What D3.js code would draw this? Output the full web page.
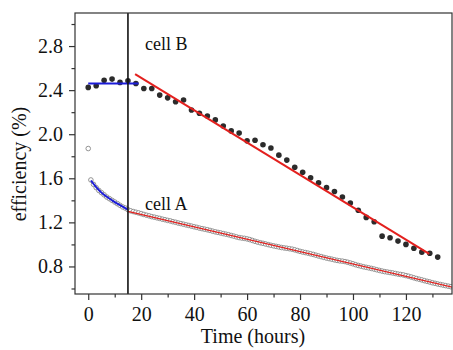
<!DOCTYPE html>
<meta charset="utf-8">
<script src="https://d3js.org/d3.v7.min.js"></script>
<style>
  body { margin: 0; background: #fff; }
  svg text { font-family: "Times New Roman", "Liberation Serif", "DejaVu Serif", serif !important; fill: #111; }
</style>
<svg id="chart" width="453" height="350"></svg>
<script>

  // cell B (filled dots), one every 3 hours
  var timesB = [0,3,6,9,12,15,18,21,24,27,30,33,36,39,42,45,48,51,54,57,60,63,66,69,72,75,78,81,84,87,90,93,96,99,102,105,108,111,114,117,120,123,126,129,132];
  var valuesB = [2.425,2.44,2.49,2.50,2.47,2.485,2.46,2.415,2.415,2.355,2.33,2.295,2.31,2.22,2.19,2.165,2.13,2.075,2.03,2.01,1.94,1.945,1.905,1.875,1.81,1.765,1.70,1.655,1.605,1.56,1.515,1.48,1.43,1.375,1.31,1.245,1.205,1.075,1.06,1.03,1.00,0.965,0.93,0.92,0.885];

  // cell A (open circles), one every hour
  var timesA = d3.range(0, 138);
  var valuesA = [1.87,1.585,1.545,1.515,1.49,1.47,1.45,1.43,1.415,1.40,1.385,1.37,1.355,1.34,1.33,1.315,
    1.305,1.298,1.292,1.286,1.279,1.272,1.265,1.259,1.252,1.247,1.241,1.236,1.229,1.224,1.218,1.213,1.206,1.201,1.194,1.189,
    1.183,1.177,1.172,1.166,1.160,1.155,1.148,1.143,1.138,1.133,1.127,1.120,1.114,1.109,1.104,1.098,1.093,1.088,1.081,1.075,
    1.068,1.062,1.058,1.055,1.050,1.044,1.036,1.028,1.021,1.015,1.010,1.004,0.998,0.992,0.987,0.982,0.977,0.972,0.968,0.965,
    0.961,0.957,0.951,0.944,0.937,0.931,0.926,0.921,0.915,0.909,0.902,0.895,0.889,0.882,0.876,0.871,0.866,0.860,0.855,0.851,
    0.848,0.844,0.838,0.831,0.824,0.816,0.809,0.803,0.797,0.792,0.787,0.782,0.776,0.770,0.764,0.758,0.753,0.749,0.745,0.741,
    0.736,0.731,0.727,0.723,0.717,0.711,0.704,0.697,0.690,0.684,0.678,0.671,0.665,0.659,0.652,0.647,0.641,0.636,0.631,0.626,
    0.621,0.616];

  // fitted lines
  var fitBlueA_t = [1,3,5,7,9,11,13,15];
  var fitBlueA_v = [1.58,1.52,1.47,1.432,1.40,1.37,1.342,1.315];
  var fitRedA_t = [15, 138];
  var fitRedA_v = [1.30, 0.610];
  var fitBlueB_t = [0, 19];
  var fitBlueB_v = [2.46, 2.46];
  var fitRedB_t = [17.7, 128.8];
  var fitRedB_v = [2.545, 0.915];

  // marker time and tick labels
  var markerTime = 15;
  var xTicks = [0,20,40,60,80,100,120];
  var xMinor = [10,30,50,70,90,110,130];
  var yTicks = [0.8,1.2,1.6,2.0,2.4,2.8];
  var yMinor = [0.6,1.0,1.4,1.8,2.2,2.6,3.0];

  var svg = d3.select("#chart");
  var pLeft = 75, pRight = 452, pTop = 13, pBottom = 294;

  var x = d3.scaleLinear().domain([-5, 137.4]).range([pLeft, pRight]);
  var y = d3.scaleLinear().domain([0.55, 3.1]).range([pBottom, pTop]);

  svg.append("clipPath").attr("id", "clip")
    .append("rect").attr("x", pLeft).attr("y", pTop)
    .attr("width", pRight - pLeft).attr("height", pBottom - pTop);

  var plot = svg.append("g").attr("clip-path", "url(#clip)");

  var line = d3.line().x(function(d) { return x(d[0]); }).y(function(d) { return y(d[1]); });
  var curve = d3.line().curve(d3.curveMonotoneX)
    .x(function(d) { return x(d[0]); }).y(function(d) { return y(d[1]); });

  // cell A points
  plot.append("g").selectAll("circle")
    .data(d3.zip(timesA, valuesA))
    .enter().append("circle")
    .attr("cx", function(d) { return x(d[0]); })
    .attr("cy", function(d) { return y(d[1]); })
    .attr("r", 2.3)
    .attr("fill", "#fff")
    .attr("stroke", "#888")
    .attr("stroke-width", 0.9);

  // fits
  plot.append("path").attr("d", curve(d3.zip(fitBlueA_t, fitBlueA_v)))
    .attr("fill", "none").attr("stroke", "#1c1cd8").attr("stroke-width", 2);
  plot.append("path").attr("d", line(d3.zip(fitRedA_t, fitRedA_v)))
    .attr("fill", "none").attr("stroke", "#e3201e").attr("stroke-width", 1.2);

  // cell B points
  plot.append("g").selectAll("circle")
    .data(d3.zip(timesB, valuesB))
    .enter().append("circle")
    .attr("cx", function(d) { return x(d[0]); })
    .attr("cy", function(d) { return y(d[1]); })
    .attr("r", 2.8)
    .attr("fill", "#2b2b2b");

  plot.append("path").attr("d", line(d3.zip(fitBlueB_t, fitBlueB_v)))
    .attr("fill", "none").attr("stroke", "#1c1cd8").attr("stroke-width", 2);
  plot.append("path").attr("d", line(d3.zip(fitRedB_t, fitRedB_v)))
    .attr("fill", "none").attr("stroke", "#e3201e").attr("stroke-width", 2);

  // vertical marker
  svg.append("line")
    .attr("x1", x(markerTime)).attr("x2", x(markerTime))
    .attr("y1", pTop).attr("y2", pBottom)
    .attr("stroke", "#111").attr("stroke-width", 1.6);

  // frame
  svg.append("rect").attr("x", pLeft).attr("y", pTop)
    .attr("width", pRight - pLeft).attr("height", pBottom - pTop)
    .attr("fill", "none").attr("stroke", "#333").attr("stroke-width", 1.2);

  // axes
  svg.append("g").attr("transform", "translate(0," + pBottom + ")")
    .call(d3.axisBottom(x).tickValues(xTicks).tickSize(6).tickPadding(7).tickFormat(d3.format("d")));
  svg.append("g").attr("transform", "translate(0," + pBottom + ")")
    .call(d3.axisBottom(x).tickValues(xMinor).tickSize(3.5).tickFormat(""));
  svg.append("g").attr("transform", "translate(" + pLeft + ",0)")
    .call(d3.axisLeft(y).tickValues(yTicks).tickSize(6).tickPadding(6).tickFormat(d3.format(".1f")));
  svg.append("g").attr("transform", "translate(" + pLeft + ",0)")
    .call(d3.axisLeft(y).tickValues(yMinor).tickSize(3.5).tickFormat(""));

  svg.selectAll(".domain").remove();
  svg.selectAll(".tick line").attr("stroke", "#333").attr("stroke-width", 1.2);
  svg.selectAll(".tick text").attr("font-size", null)
    .style("font-size", "20px").attr("fill", "#111");

  // titles
  svg.append("text").attr("x", 253).attr("y", 343)
    .attr("text-anchor", "middle").style("font-size", "20px")
    .text("Time (hours)");
  svg.append("text")
    .attr("transform", "translate(26,164) rotate(-90)")
    .attr("text-anchor", "middle").style("font-size", "20px")
    .text("efficiency (%)");

  // cell labels
  svg.append("text").attr("x", 145).attr("y", 50).style("font-size", "18px").text("cell B");
  svg.append("text").attr("x", 145).attr("y", 210).style("font-size", "18px").text("cell A");

</script>
